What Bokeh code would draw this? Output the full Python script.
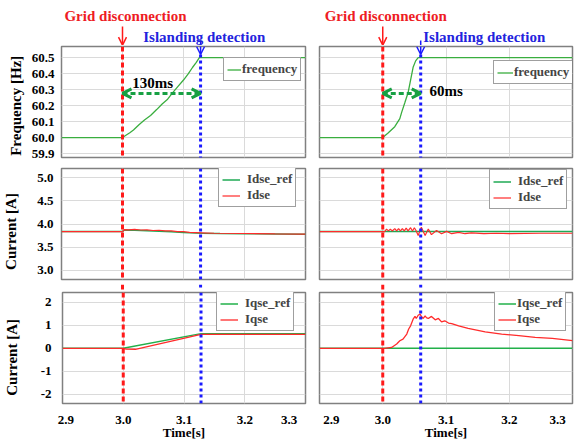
from bokeh.plotting import figure
from bokeh.layouts import column, row
from bokeh.models import Range1d, FixedTicker, NumeralTickFormatter, Arrow, OpenHead, Label, Span
from bokeh.embed import file_html
from bokeh.resources import INLINE

# ---------------- data ----------------
x_ticks = [2.9, 3.0, 3.1, 3.2, 3.3]
freq_ticks = [59.9, 60.0, 60.1, 60.2, 60.3, 60.4, 60.5]
idse_ticks = [3.0, 3.5, 4.0, 4.5, 5.0]
iqse_ticks = [-2, -1, 0, 1, 2]

t_disconnect = 3.0
t_detect_left = 3.128
t_detect_right = 3.06

# left column (130 ms case)
t_freq_l = [2.9, 3.0, 3.005, 3.012, 3.018, 3.027, 3.036, 3.046, 3.056, 3.065, 3.074,
            3.082, 3.091, 3.100, 3.108, 3.115, 3.121, 3.126, 3.3]
freq_l = [60.0, 60.0, 60.013, 60.03, 60.047, 60.08, 60.11, 60.138, 60.175, 60.21, 60.24,
          60.28, 60.32, 60.36, 60.40, 60.44, 60.47, 60.5, 60.5]

t_idse_ref_l = [2.9, 3.0, 3.003, 3.02, 3.04, 3.06, 3.08, 3.10, 3.13, 3.16, 3.2, 3.25, 3.3]
idse_ref_l = [3.836, 3.836, 3.87, 3.865, 3.855, 3.845, 3.83, 3.815, 3.80, 3.795, 3.79, 3.785, 3.78]
t_idse_l = [2.9, 3.0, 3.003, 3.01, 3.02, 3.03, 3.04, 3.05, 3.06, 3.07, 3.08, 3.09, 3.10,
            3.11, 3.12, 3.13, 3.15, 3.2, 3.25, 3.3]
idse_l = [3.836, 3.836, 3.88, 3.875, 3.885, 3.87, 3.875, 3.86, 3.865, 3.85, 3.85, 3.835, 3.835,
          3.82, 3.815, 3.81, 3.80, 3.795, 3.785, 3.78]

t_iqse_ref_l = [2.9, 3.0, 3.128, 3.3]
iqse_ref_l = [0.0, 0.0, 0.64, 0.64]
t_iqse_l = [2.9, 3.0, 3.005, 3.02, 3.128, 3.3]
iqse_l = [0.0, 0.0, -0.03, -0.04, 0.61, 0.61]

# right column (60 ms case)
t_freq_r = [2.9, 3.0, 3.008, 3.019, 3.027, 3.030, 3.035, 3.040, 3.044, 3.048, 3.052, 3.056, 3.3]
freq_r = [60.0, 60.0, 60.027, 60.068, 60.118, 60.159, 60.219, 60.28, 60.36, 60.44, 60.48, 60.5, 60.5]

t_idse_ref_r = [2.9, 3.0, 3.3]
idse_ref_r = [3.836, 3.836, 3.836]
t_idse_r = [2.9, 3.003, 3.006, 3.009, 3.012, 3.015, 3.019, 3.022, 3.025, 3.028, 3.031, 3.034,
            3.037, 3.040, 3.044, 3.047, 3.050, 3.053, 3.056, 3.061, 3.067, 3.072, 3.077, 3.085,
            3.093, 3.101, 3.109, 3.12, 3.13, 3.14, 3.16, 3.18, 3.2, 3.25, 3.3]
idse_r = [3.836, 3.836, 3.89, 3.85, 3.89, 3.85, 3.90, 3.85, 3.90, 3.85, 3.90, 3.85,
          3.91, 3.85, 3.92, 3.85, 3.92, 3.85, 3.75, 3.93, 3.75, 3.89, 3.77, 3.86,
          3.79, 3.84, 3.79, 3.82, 3.79, 3.81, 3.79, 3.80, 3.79, 3.80, 3.80]

t_iqse_ref_r = [2.9, 3.3]
iqse_ref_r = [0.0, 0.0]
t_iqse_r = [2.9, 3.003, 3.014, 3.022, 3.027, 3.032, 3.038, 3.041, 3.044, 3.048, 3.051, 3.053,
            3.056, 3.059, 3.061, 3.064, 3.067, 3.069, 3.072, 3.077, 3.083, 3.088, 3.093, 3.098,
            3.104, 3.109, 3.120, 3.135, 3.162, 3.188, 3.215, 3.241, 3.268, 3.3]
iqse_r = [0.0, 0.0, 0.04, 0.19, 0.33, 0.40, 0.62, 0.84, 0.98, 1.27, 1.39, 1.30,
          1.44, 1.49, 1.39, 1.30, 1.41, 1.34, 1.30, 1.39, 1.24, 1.30, 1.15, 1.20,
          1.10, 1.08, 0.98, 0.87, 0.72, 0.62, 0.55, 0.48, 0.43, 0.34]

# ---------------- style ----------------
FONT = "Liberation Serif"
GREEN = "#3aae3f"
RED = "#ff2b2b"
VRED = "#ff1a1a"
VBLUE = "#1a1aff"
ARROW_GREEN = "#17a043"
TEXT_RED = "#ee1c24"
TEXT_BLUE = "#2323dd"
NB = "\u00a0"

X_RANGE = (2.9, 3.3)
FREQ_RANGE = (59.875, 60.57)
IDSE_RANGE = (2.8, 5.2)
IQSE_RANGE = (-2.4, 2.43)

LW_W, RW_W = 313, 262
FRAME_H = 111
# stacked rows: annotation strip, top panel, gap, middle panel, gap, bottom panel
ANN_H, TOP_H, GAP1_H, MID_H, GAP2_H, BOT_H = 45, 116, 5, 115, 9, 153


def borders(left):
    return (61, 8) if left else (6, 3)


def strip(left, height):
    bl, br = borders(left)
    p = figure(width=LW_W if left else RW_W, height=height,
               x_range=Range1d(*X_RANGE), y_range=Range1d(0, height),
               output_backend="svg", toolbar_location=None,
               min_border_left=bl, min_border_right=br, min_border_top=0, min_border_bottom=0)
    p.outline_line_color = None
    p.xaxis.visible = False
    p.yaxis.visible = False
    p.grid.visible = False
    p.background_fill_color = "white"
    p.border_fill_color = "white"
    return p


def panel(left, height, yr, yticks, yfmt, show_x, ylabel, b_top, b_bottom,
          tick_standoff=7, label_standoff=7):
    bl, br = borders(left)
    p = figure(width=LW_W if left else RW_W, height=height,
               x_range=Range1d(*X_RANGE), y_range=Range1d(*yr),
               output_backend="svg", toolbar_location=None,
               min_border_left=bl, min_border_right=br,
               min_border_top=b_top, min_border_bottom=b_bottom)
    p.outline_line_color = "#808080"
    p.outline_line_width = 1.5
    p.background_fill_color = "white"
    p.border_fill_color = "white"
    p.xaxis.ticker = FixedTicker(ticks=x_ticks)
    p.yaxis.ticker = FixedTicker(ticks=yticks)
    p.xaxis.formatter = NumeralTickFormatter(format="0.0")
    p.yaxis.formatter = NumeralTickFormatter(format=yfmt)
    for ax in (p.xaxis[0], p.yaxis[0]):
        ax.axis_line_color = None
        ax.major_tick_line_color = None
        ax.minor_tick_line_color = None
        ax.major_tick_out = 0
        ax.major_tick_in = 0
        ax.minor_tick_out = 0
        ax.major_label_text_font = FONT
        ax.major_label_text_font_style = "bold"
        ax.major_label_text_font_size = "13px"
        ax.major_label_text_color = "black"
        ax.axis_label_text_font = FONT
        ax.axis_label_text_font_style = "bold"
        ax.axis_label_text_color = "black"
    p.yaxis.major_label_standoff = tick_standoff
    p.yaxis.axis_label_standoff = label_standoff
    p.yaxis.axis_label_text_font_size = "15px"
    p.xaxis.major_label_standoff = 8
    p.xaxis.axis_label_standoff = -5
    p.xaxis.axis_label_text_font_size = "13px"
    p.grid.grid_line_color = "#dadada"
    p.grid.grid_line_width = 1
    p.xaxis.visible = show_x
    p.yaxis.visible = left
    if left and ylabel:
        p.yaxis.axis_label = ylabel
    if show_x:
        p.xaxis.axis_label = "Time[s]"
        # end labels sit slightly inside the frame, as in the original
        if left:
            p.xaxis.major_label_overrides = {2.9: NB * 2 + "2.9", 3.3: "3.3" + NB * 5}
        else:
            p.xaxis.major_label_overrides = {2.9: NB * 3 + "2.9", 3.3: "3.3" + NB * 3}
    return p


def style_legend(p, loc, glyph_width, standoff):
    lg = p.legend[0]
    lg.location = loc
    lg.border_line_color = "#404040"
    lg.border_line_width = 1.5
    lg.background_fill_color = "white"
    lg.background_fill_alpha = 1.0
    lg.label_text_font = FONT
    lg.label_text_font_style = "bold"
    lg.label_text_font_size = "13px"
    lg.glyph_width = glyph_width
    lg.glyph_height = 13
    lg.label_height = 13
    lg.label_standoff = standoff
    lg.padding = 3
    lg.spacing = 0
    lg.margin = 0


def vspan(p, x, color, dash):
    p.add_layout(Span(location=x, dimension="height", line_color=color, line_width=3,
                      line_dash=dash))


def y_at(yr, pix, frame_top=46):
    # data value of the top panel at a given canvas pixel row
    lo, hi = yr
    return hi - (pix - frame_top) * (hi - lo) / FRAME_H


RED_DASH = "5 3"
BLUE_DOT = "3 3"


def build_column(left, t_f, f, t_dr, d_ref, t_d, d, t_qr, q_ref, t_q, q, t_detect,
                 leg_locs, leg_glyph, leg_standoff, ms_text, ms_pos):
    ann = strip(left, ANN_H)
    # trailing no-break spaces set the axis titles slightly low, as in the original
    top = panel(left, TOP_H, FREQ_RANGE, freq_ticks, "0.0", False, "Frequency [Hz]" + NB * 2,
                1, 4, tick_standoff=7, label_standoff=5)
    gap1 = strip(left, GAP1_H)
    mid = panel(left, MID_H, IDSE_RANGE, idse_ticks, "0.0", False, "Current [A]" + NB * 4,
                2, 2, tick_standoff=8, label_standoff=15)
    gap2 = strip(left, GAP2_H)
    bot = panel(left, BOT_H, IQSE_RANGE, iqse_ticks, "0", True, "Current [A]" + NB * 5,
                2, 40, tick_standoff=11, label_standoff=18)

    top.line(t_f, f, line_color=GREEN, line_width=1.3, legend_label="frequency")
    mid.line(t_dr, d_ref, line_color="#1faa55", line_width=1.5, legend_label="Idse_ref")
    mid.line(t_d, d, line_color=RED, line_width=1.2, legend_label="Idse")
    bot.line(t_qr, q_ref, line_color="#22b04a", line_width=1.5, legend_label="Iqse_ref")
    bot.line(t_q, q, line_color=RED, line_width=1.3, legend_label="Iqse")

    style_legend(top, leg_locs[0], leg_glyph[0], leg_standoff[0])
    style_legend(mid, leg_locs[1], leg_glyph[1], leg_standoff[1])
    style_legend(bot, leg_locs[2], leg_glyph[2], leg_standoff[2])

    # vertical event lines through every panel and gap
    flo, fhi = FREQ_RANGE
    vspan(top, t_disconnect, VRED, RED_DASH)
    top.add_layout(Arrow(end=None, x_start=t_detect, y_start=y_at(FREQ_RANGE, 54),
                         x_end=t_detect, y_end=flo - 0.2, line_color=VBLUE, line_width=3,
                         line_dash=BLUE_DOT))
    for p in (gap1, mid, gap2, bot):
        vspan(p, t_disconnect, VRED, RED_DASH)
        vspan(p, t_detect, VBLUE, BLUE_DOT)

    # event arrows and texts above the top panel (strip y = ANN_H - pixel row)
    ann.add_layout(Arrow(end=OpenHead(size=8, line_color=VRED, line_width=1.5),
                         x_start=t_disconnect, y_start=ANN_H - 26,
                         x_end=t_disconnect, y_end=0.3,
                         line_color=VRED, line_width=1.5))
    ann.add_layout(Arrow(end=None, x_start=t_detect, y_start=ANN_H - 40,
                         x_end=t_detect, y_end=-2, line_color=VBLUE, line_width=1.5))
    top.add_layout(Arrow(end=OpenHead(size=8, line_color=VBLUE, line_width=1.5),
                         x_start=t_detect, y_start=y_at(FREQ_RANGE, 40),
                         x_end=t_detect, y_end=y_at(FREQ_RANGE, 54),
                         line_color=VBLUE, line_width=1.5))
    ann.add_layout(Label(x=t_disconnect, y=ANN_H - 15, x_offset=3,
                         text="Grid disconnection", text_align="center", text_baseline="middle",
                         text_font=FONT, text_font_style="bold", text_font_size="15px",
                         text_color=TEXT_RED))
    isl_x = 3.034 if left else 3.064
    ann.add_layout(Label(x=isl_x, y=ANN_H - 36,
                         text="Islanding detection", text_align="left", text_baseline="middle",
                         text_font=FONT, text_font_style="bold", text_font_size="15px",
                         text_color=TEXT_BLUE))

    # detection delay double arrow
    ya = 60.276
    top.add_layout(Arrow(start=OpenHead(size=9, line_color=ARROW_GREEN, line_width=3),
                         end=OpenHead(size=9, line_color=ARROW_GREEN, line_width=3),
                         x_start=t_disconnect, y_start=ya, x_end=t_detect, y_end=ya,
                         line_color=ARROW_GREEN, line_width=3, line_dash="5 3"))
    top.add_layout(Label(x=ms_pos[0], y=ms_pos[1], text=ms_text, text_align="left",
                         text_baseline="middle", text_font=FONT, text_font_style="bold",
                         text_font_size="15px", text_color="black"))
    return [ann, top, gap1, mid, gap2, bot]


left_col = build_column(True, t_freq_l, freq_l, t_idse_ref_l, idse_ref_l, t_idse_l, idse_l,
                        t_iqse_ref_l, iqse_ref_l, t_iqse_l, iqse_l, t_detect_left,
                        [(162, 76), (157, 72), (154, 72)], [14, 18, 18], [1, 7, 7],
                        "130ms", (3.016, 60.343))
right_col = build_column(False, t_freq_r, freq_r, t_idse_ref_r, idse_ref_r, t_idse_r, idse_r,
                         t_iqse_ref_r, iqse_ref_r, t_iqse_r, iqse_r, t_detect_right,
                         [(174, 73), (170, 70), (175, 72)], [16, 18, 18], [1, 7, 1],
                         "60ms", (3.074, 60.294))

layout = column([row(a, b, spacing=0) for a, b in zip(left_col, right_col)], spacing=0)

open("out.html", "w").write(file_html(layout, INLINE))
